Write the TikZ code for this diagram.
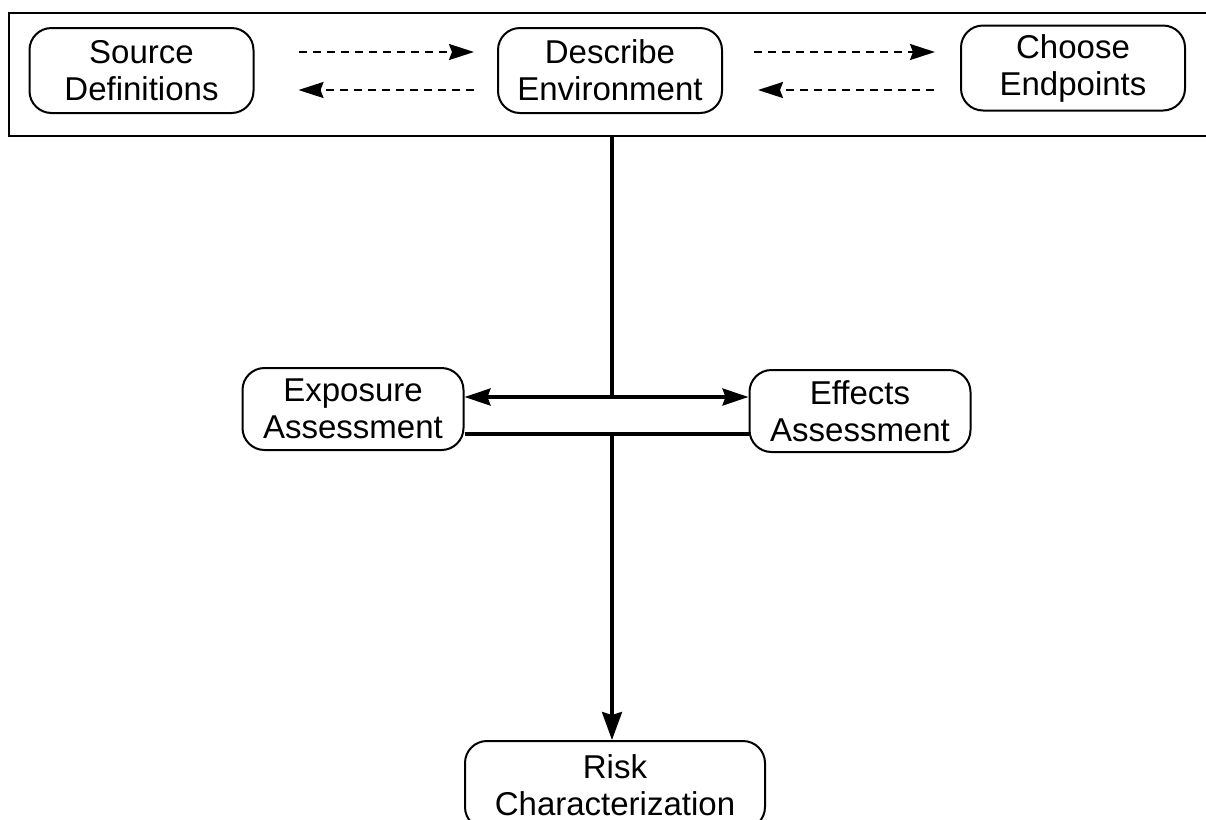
\documentclass[tikz,border=0pt]{standalone}
\usepackage{fontspec}
\setmainfont{Liberation Sans}
\usetikzlibrary{arrows.meta}
\begin{document}
\begin{tikzpicture}[x=0.5pt,y=-0.5pt,
  box/.style={draw, line width=1pt, rounded corners=11pt, align=center,
    font=\fontsize{16.5}{18.5}\selectfont, inner sep=0pt},
  topbox/.style={box, minimum width=112pt, minimum height=42.5pt},
  midbox/.style={box, minimum width=110.5pt, minimum height=41pt},
  dasharrow/.style={line width=1pt, dash pattern=on 4pt off 3pt,
    -{Stealth[length=12.5pt,width=8pt,inset=1.5pt]}},
  solidline/.style={line width=1.6pt},
  dblarrow/.style={solidline, {Stealth[length=13pt,width=8.5pt,inset=1.5pt]}-{Stealth[length=13pt,width=8.5pt,inset=1.5pt]}},
  downarrow/.style={solidline, -{Stealth[length=14pt,width=10pt,inset=1.5pt]}}
]
\useasboundingbox (0,0) rectangle (1206,820);
\node[draw, line width=0.9pt, minimum width=601.5pt, minimum height=61.5pt, inner sep=0pt] (frame) at (610.5,74.5) {};
\node[topbox] (src) at (141.5,70.5) {Source\\Definitions};
\node[topbox] (desc) at (610,70.5) {Describe\\Environment};
\node[topbox] (choose) at (1073,68) {Choose\\Endpoints};
\node[midbox] (expo) at (353,409) {Exposure\\Assessment};
\node[midbox] (eff) at (860,411) {Effects\\Assessment};
\node[box, minimum width=150pt, minimum height=44pt] (risk) at (615,785) {Risk\\Characterization};
\coordinate (j1) at (612,397);
\coordinate (j2) at (612,434);
% dashed arrows in the top frame
\draw[dasharrow, shorten <=22pt, shorten >=11.5pt] ([yshift=9.25pt]src.east) -- ([yshift=9.25pt]desc.west);
\draw[dasharrow, shorten <=11.5pt, shorten >=22pt] ([yshift=-9.75pt]desc.west) -- ([yshift=-9.75pt]src.east);
\draw[dasharrow, shorten <=15.5pt, shorten >=12.5pt] ([yshift=9.25pt]desc.east) -- ([yshift=8pt]choose.west);
\draw[dasharrow, shorten <=13pt, shorten >=17.5pt] ([yshift=-11pt]choose.west) -- ([yshift=-9.75pt]desc.east);
% central connectors
\draw[solidline] (j1 |- frame.south) -- (j1);
\draw[dblarrow] (expo.east |- j1) -- (eff.west |- j1);
\draw[solidline] (expo.east |- j2) -- (eff.west |- j2);
\draw[downarrow] (j2) -- (j2 |- risk.north);
\end{tikzpicture}
\end{document}
